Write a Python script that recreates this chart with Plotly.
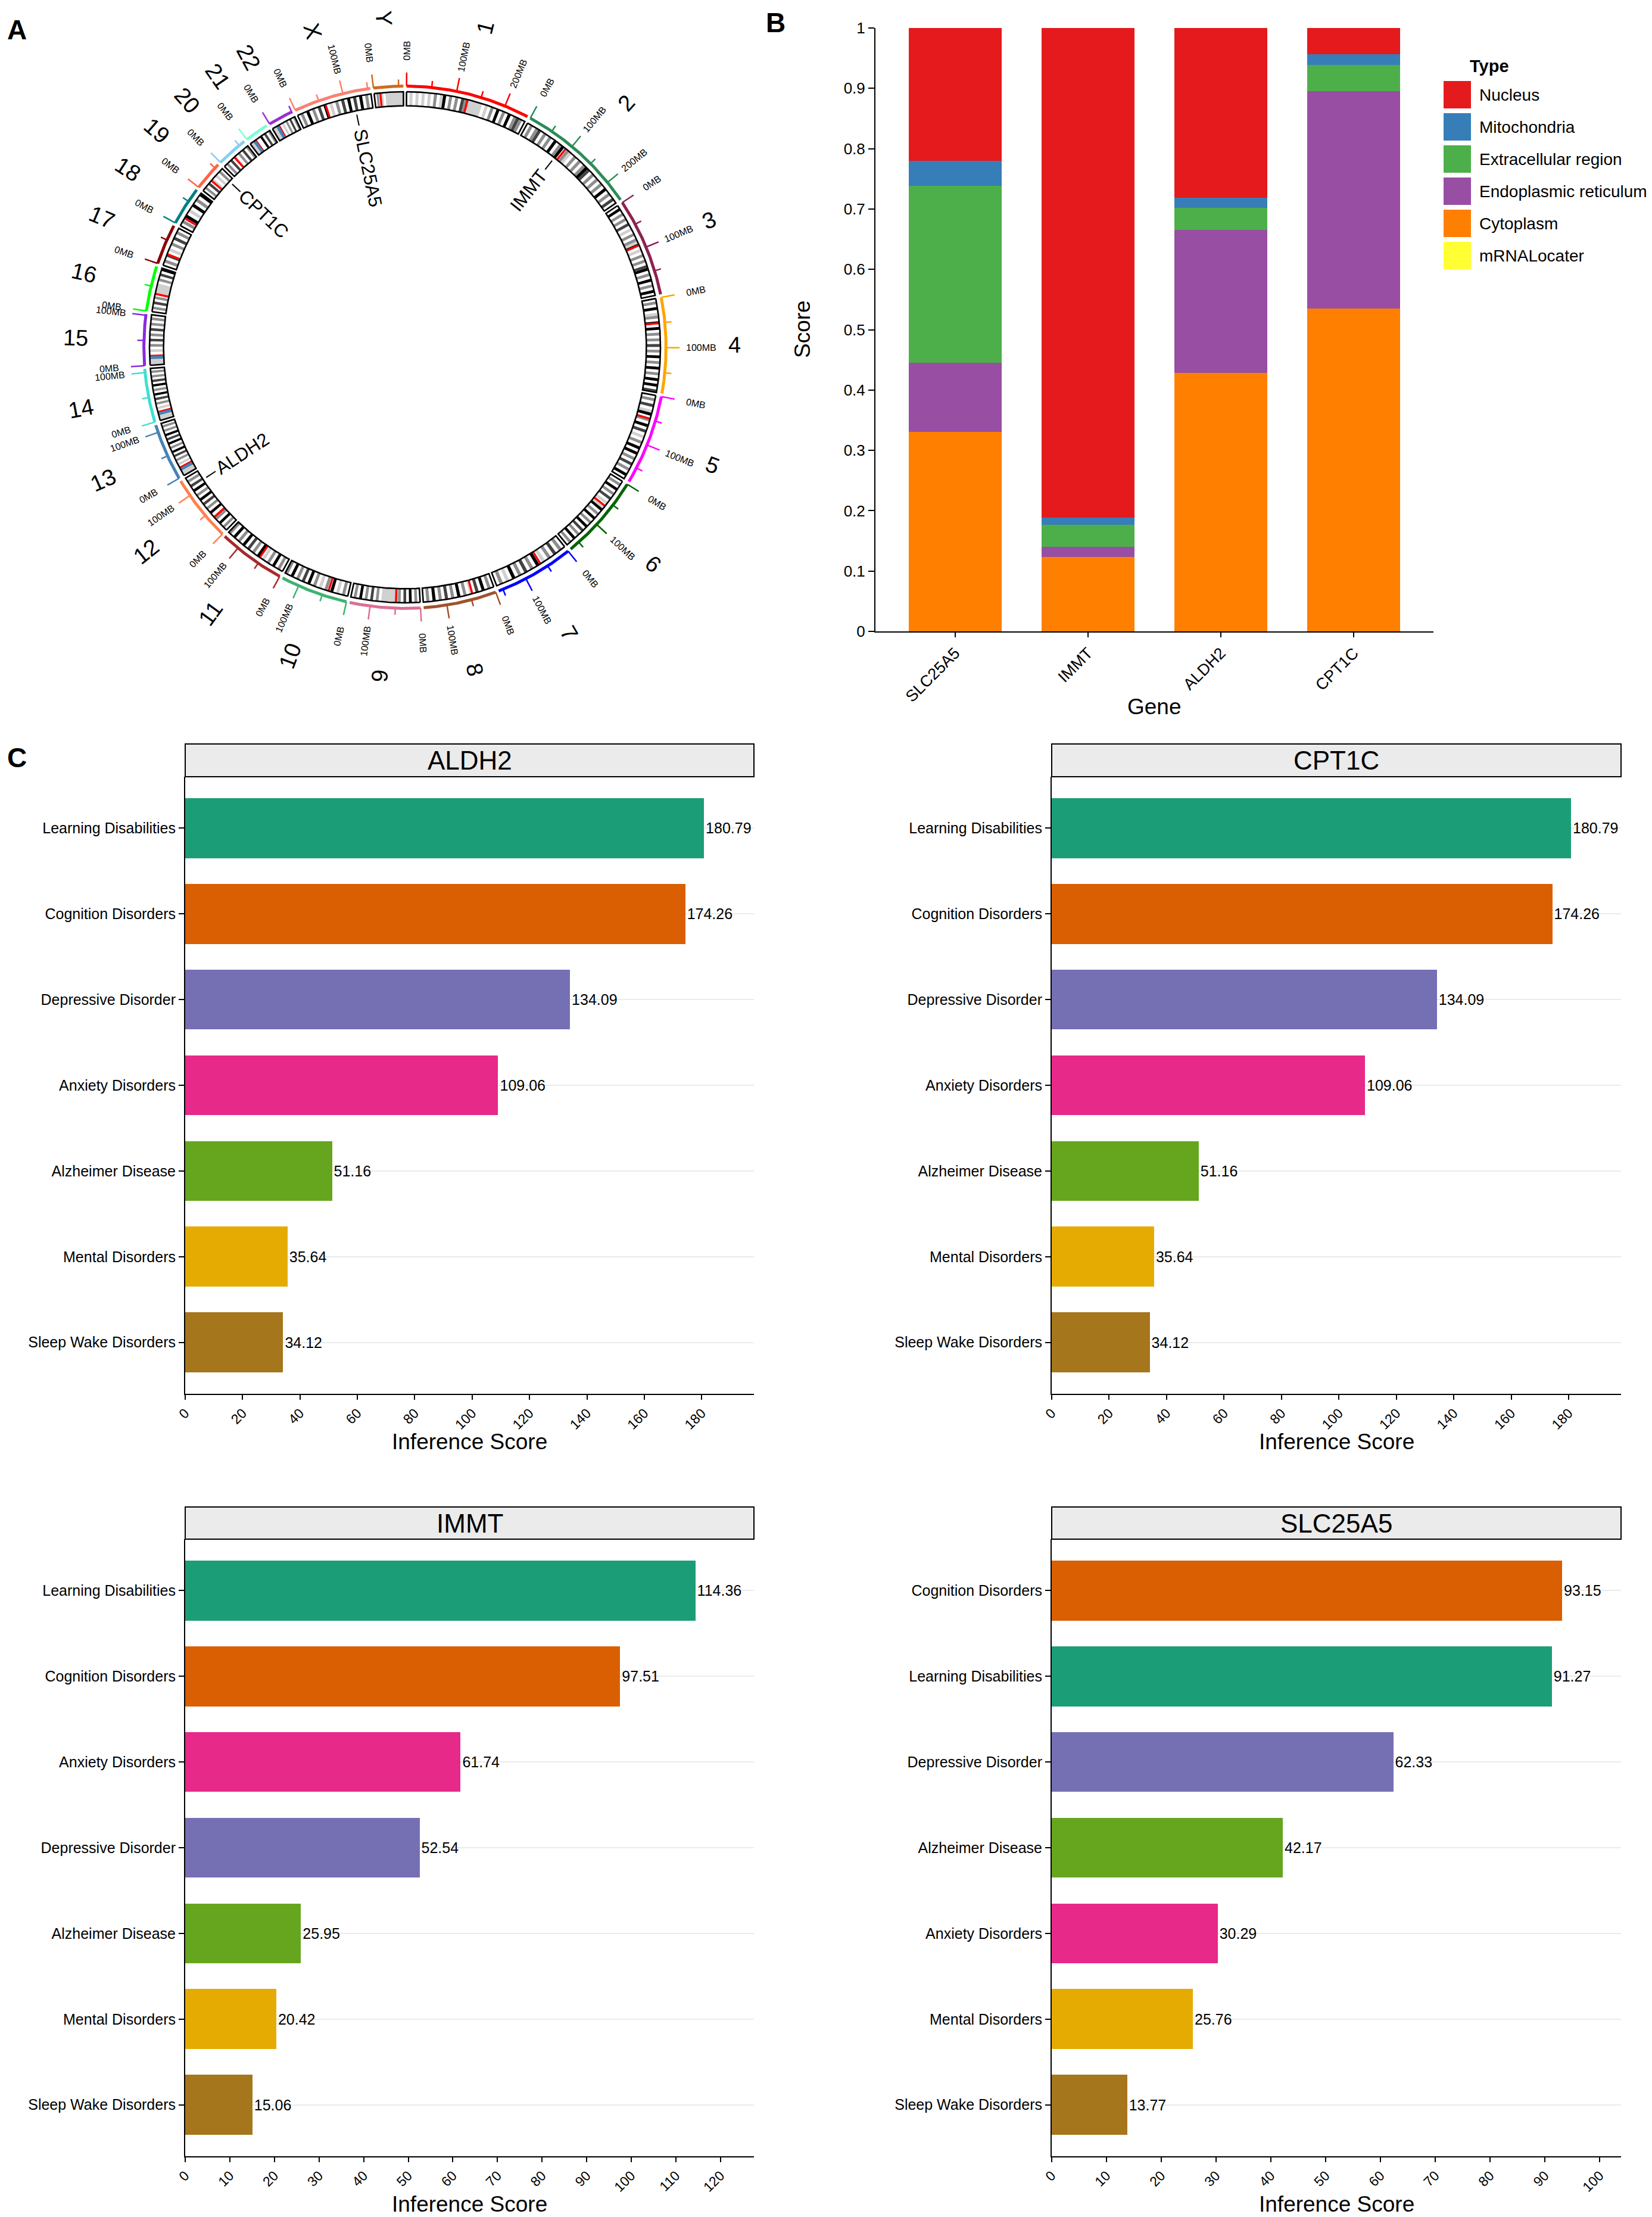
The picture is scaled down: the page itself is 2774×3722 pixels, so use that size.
import numpy as np
import plotly.graph_objects as go

W, H = 2774, 3722
OFF = 8  # page body margin
FONT = "Liberation Sans, Arial, sans-serif"

# ---------------- panel A data (hg19, Mb) ----------------
CHROMS = ["1", "2", "3", "4", "5", "6", "7", "8", "9", "10", "11", "12",
          "13", "14", "15", "16", "17", "18", "19", "20", "21", "22", "X", "Y"]
CHROM_LEN = [249.25, 243.2, 198.0, 191.15, 180.9, 171.1, 159.1, 146.4, 141.2, 135.5,
             135.0, 133.9, 115.2, 107.3, 102.5, 90.35, 81.2, 78.1, 59.1, 63.0,
             48.1, 51.3, 155.3, 59.4]
CENTROMERE = [125.0, 93.3, 91.0, 50.4, 48.4, 61.0, 59.9, 45.6, 49.0, 40.2,
              53.7, 35.8, 17.9, 17.6, 19.0, 36.6, 24.0, 17.2, 26.5, 27.5,
              13.2, 14.7, 60.6, 12.5]
CHROM_COLORS = ["#FF0000", "#2E8B57", "#8B2252", "#FFA500", "#FF00FF", "#006400",
                "#0000FF", "#A0522D", "#DB7093", "#3CB371", "#A52A2A", "#FF7F50",
                "#4682B4", "#40E0D0", "#8A2BE2", "#00FF00", "#8B0000", "#008080",
                "#FF6347", "#87CEEB", "#7FFFD4", "#9932CC", "#FA8072", "#D2691E"]
# rough stain pattern, equal-width bins (0 white .. 4 black)
BANDS = ["0101010102014020203211111010204020402320",
         "02023020204024021020202430202020402030",
         "0402020301020214010202034020402040",
         "020401204040202030204020402040403",
         "020301402040301020404020302040",
         "020402030101402040204030204020",
         "02030201040203020401020",
         "02040301020402030204020",
         "0204030211111102030204020",
         "0201040201020403020402",
         "0204020104020304020402",
         "020402104020304020403020",
         "1110010203040204030402020",
         "11100102030402040302020",
         "1110010203020302020",
         "02030201111020304",
         "0203010203020",
         "020401040204",
         "02030101020",
         "020301020302",
         "1110040302",
         "111001020302",
         "0204020304010203040304020",
         "0201011111111"]
STALK_CHROMS = ["13", "14", "15", "21", "22"]
STALK_POS = [14.0, 14.0, 15.5, 10.5, 11.5]

GENE_NAMES = ["SLC25A5", "IMMT", "CPT1C", "ALDH2"]
GENE_CHROM = ["X", "2", "19", "12"]
GENE_POS = [118.6, 86.4, 50.2, 112.2]

# ---------------- panel B data ----------------
B_GENES = ["SLC25A5", "IMMT", "ALDH2", "CPT1C"]
cytoplasm = [0.331, 0.123, 0.428, 0.535]
endoplasmic = [0.114, 0.017, 0.237, 0.360]
extracellular = [0.293, 0.037, 0.037, 0.044]
mitochondria = [0.042, 0.012, 0.017, 0.018]
nucleus = [0.220, 0.811, 0.281, 0.043]
mrnalocater = [0.0, 0.0, 0.0, 0.0]
TYPE_NAMES = ["Nucleus", "Mitochondria", "Extracellular region",
              "Endoplasmic reticulum", "Cytoplasm", "mRNALocater"]
TYPE_COLORS = ["#E41A1C", "#377EB8", "#4DAF4A", "#984EA3", "#FF7F00", "#FFFF33"]

# ---------------- panel C data ----------------
DISEASE_COLORS = {"Learning Disabilities": "#1B9E77", "Cognition Disorders": "#D95F02",
                  "Depressive Disorder": "#7570B3", "Anxiety Disorders": "#E7298A",
                  "Alzheimer Disease": "#66A61E", "Mental Disorders": "#E6AB02",
                  "Sleep Wake Disorders": "#A6761D"}
C_TITLES = ["ALDH2", "CPT1C", "IMMT", "SLC25A5"]
aldh2_terms = ["Learning Disabilities", "Cognition Disorders", "Depressive Disorder",
               "Anxiety Disorders", "Alzheimer Disease", "Mental Disorders", "Sleep Wake Disorders"]
aldh2_scores = [180.79, 174.26, 134.09, 109.06, 51.16, 35.64, 34.12]
cpt1c_terms = ["Learning Disabilities", "Cognition Disorders", "Depressive Disorder",
               "Anxiety Disorders", "Alzheimer Disease", "Mental Disorders", "Sleep Wake Disorders"]
cpt1c_scores = [180.79, 174.26, 134.09, 109.06, 51.16, 35.64, 34.12]
immt_terms = ["Learning Disabilities", "Cognition Disorders", "Anxiety Disorders",
              "Depressive Disorder", "Alzheimer Disease", "Mental Disorders", "Sleep Wake Disorders"]
immt_scores = [114.36, 97.51, 61.74, 52.54, 25.95, 20.42, 15.06]
slc_terms = ["Cognition Disorders", "Learning Disabilities", "Depressive Disorder",
             "Alzheimer Disease", "Anxiety Disorders", "Mental Disorders", "Sleep Wake Disorders"]
slc_scores = [93.15, 91.27, 62.33, 42.17, 30.29, 25.76, 13.77]
C_XMAX = [198.2, 198.2, 127.5, 103.9]
C_DTICK = [20, 20, 10, 10]


# screen pixel -> paper fraction (the page adds an 8px body margin)
def px(x):
    return (x - OFF) / W


def py(y):
    return 1 - (y - OFF) / H


def label(x, y, text, size, **kw):
    d = dict(x=px(x), y=py(y), xref="paper", yref="paper", text=text, showarrow=False,
             xanchor="center", yanchor="middle", font=dict(size=size, color="black"))
    d.update(kw)
    return d


fig = go.Figure()
annotations = []
shapes = []

# ================= A: circos ring =================
CX, CY, RPX = 680, 583, 429
R_IN, R_OUT, R_ARC = 0.945, 1.0, 1.022
GAP = 0.7
deg_per_mb = (360 - GAP * len(CHROMS)) / sum(CHROM_LEN)
starts = []
a = GAP / 2
for L in CHROM_LEN:
    starts.append(a)
    a += L * deg_per_mb + GAP


def ang(ci, mb):
    return starts[ci] + mb * deg_per_mb


def arc(r, a0, a1):
    n = max(2, int(abs(a1 - a0) / 0.25) + 2)
    t = np.radians(np.linspace(a0, a1, n))
    return list(r * np.sin(t)), list(r * np.cos(t))


def ring_poly(a0, a1):
    xo, yo = arc(R_OUT, a0, a1)
    xi, yi = arc(R_IN, a1, a0)
    return xo + xi + [xo[0]], yo + yi + [yo[0]]


def radial(a_deg, r0, r1):
    t = np.radians(a_deg)
    return [r0 * np.sin(t), r1 * np.sin(t)], [r0 * np.cos(t), r1 * np.cos(t)]


def radial_text(th, r, text, size):
    ta = th - 90 if th < 180 else th - 270
    t = np.radians(th)
    return dict(x=r * np.sin(t), y=r * np.cos(t), xref="x", yref="y", text=text,
                showarrow=False, textangle=ta, xanchor="center", yanchor="middle",
                font=dict(size=size, color="black"))


STAIN = {"1": "#D0D0D0", "2": "#8E8E8E", "3": "#444444", "4": "#000000"}
stain_xy = {k: ([], []) for k in STAIN}
for ci, L in enumerate(CHROM_LEN):
    s = BANDS[ci]
    n = len(s)
    for i, ch in enumerate(s):
        if ch == "0":
            continue
        bx, by = ring_poly(ang(ci, L * i / n), ang(ci, L * (i + 1) / n))
        stain_xy[ch][0].extend(bx + [None])
        stain_xy[ch][1].extend(by + [None])
for k, col in STAIN.items():
    fig.add_trace(go.Scatter(x=stain_xy[k][0], y=stain_xy[k][1], fill="toself",
                             fillcolor=col, mode="none", hoverinfo="skip",
                             xaxis="x", yaxis="y"))

# centromeres (red) and stalks (blue)
cx_, cy_ = [], []
for ci, c in enumerate(CENTROMERE):
    lx, ly = radial(ang(ci, c), R_IN, R_OUT)
    cx_ += lx + [None]
    cy_ += ly + [None]
fig.add_trace(go.Scatter(x=cx_, y=cy_, mode="lines", line=dict(color="#FF0000", width=3.5),
                         hoverinfo="skip", xaxis="x", yaxis="y"))
sx_, sy_ = [], []
for ch, p in zip(STALK_CHROMS, STALK_POS):
    lx, ly = radial(ang(CHROMS.index(ch), p), R_IN, R_OUT)
    sx_ += lx + [None]
    sy_ += ly + [None]
fig.add_trace(go.Scatter(x=sx_, y=sy_, mode="lines", line=dict(color="#4682B4", width=5),
                         hoverinfo="skip", xaxis="x", yaxis="y"))

# chromosome outlines
ox, oy = [], []
for ci, L in enumerate(CHROM_LEN):
    bx, by = ring_poly(ang(ci, 0), ang(ci, L))
    ox += bx + [None]
    oy += by + [None]
fig.add_trace(go.Scatter(x=ox, y=oy, mode="lines", line=dict(color="black", width=2.6),
                         hoverinfo="skip", xaxis="x", yaxis="y"))

# coloured scale arcs with ticks and labels
for ci, L in enumerate(CHROM_LEN):
    col = CHROM_COLORS[ci]
    ax_, ay_ = arc(R_ARC, ang(ci, 0), ang(ci, L))
    fig.add_trace(go.Scatter(x=ax_, y=ay_, mode="lines", line=dict(color=col, width=5),
                             hoverinfo="skip", xaxis="x", yaxis="y"))
    tx, ty = [], []
    for m in np.arange(0, L + 0.01, 50):
        major = int(m) % 100 == 0
        lx, ly = radial(ang(ci, m), R_ARC, 1.075 if major else 1.048)
        tx += lx + [None]
        ty += ly + [None]
        if major:
            annotations.append(radial_text(ang(ci, m), 1.16, f"{int(m)}MB", 16))
    fig.add_trace(go.Scatter(x=tx, y=ty, mode="lines", line=dict(color=col, width=2.5),
                             hoverinfo="skip", xaxis="x", yaxis="y"))
    annotations.append(radial_text(ang(ci, L / 2), 1.29, CHROMS[ci], 38))

# gene labels
gx, gy = [], []
for name, ch, pos in zip(GENE_NAMES, GENE_CHROM, GENE_POS):
    th = ang(CHROMS.index(ch), pos)
    lx, ly = radial(th, 0.93, 0.886)
    gx += lx + [None]
    gy += ly + [None]
    rc = 0.872 - (len(name) * 0.62 * 31 / 2) / RPX
    annotations.append(radial_text(th, rc, name, 31))
fig.add_trace(go.Scatter(x=gx, y=gy, mode="lines", line=dict(color="black", width=2),
                         hoverinfo="skip", xaxis="x", yaxis="y"))

# ================= B: stacked localisation bars =================
stack = [("Cytoplasm", cytoplasm), ("Endoplasmic reticulum", endoplasmic),
         ("Extracellular region", extracellular), ("Mitochondria", mitochondria),
         ("Nucleus", nucleus), ("mRNALocater", mrnalocater)]
for name, vals in stack:
    fig.add_trace(go.Bar(x=B_GENES, y=vals, name=name, width=0.7,
                         marker=dict(color=TYPE_COLORS[TYPE_NAMES.index(name)], line=dict(width=0)),
                         xaxis="x2", yaxis="y2"))

# manual legend
annotations.append(label(2466, 111, "<b>Type</b>", 29, xanchor="left"))
for i, (name, col) in enumerate(zip(TYPE_NAMES, TYPE_COLORS)):
    yc = 159 + i * 54
    shapes.append(dict(type="rect", xref="paper", yref="paper", x0=px(2424), x1=px(2470),
                       y0=py(yc + 23), y1=py(yc - 23), fillcolor=col, line=dict(width=0)))
    annotations.append(label(2482, yc, name, 28, xanchor="left"))

annotations.append(label(1347, 553, "Score", 37, textangle=-90))
annotations.append(label(1938, 1186, "Gene", 37))

# ================= C: inference score bars =================
c_terms = [aldh2_terms, cpt1c_terms, immt_terms, slc_terms]
c_scores = [aldh2_scores, cpt1c_scores, immt_scores, slc_scores]
cols_px = [(311, 1266), (1766, 2722)]
rows_px = [(1249, 1304, 2340), (2530, 2584, 3620)]
for k in range(4):
    xl, xr = cols_px[k % 2]
    st, top, bot = rows_px[k // 2]
    xa, ya = f"x{k + 3}", f"y{k + 3}"
    terms, scores = c_terms[k], c_scores[k]
    fig.add_trace(go.Bar(y=terms, x=scores, orientation="h", width=0.7,
                         marker=dict(color=[DISEASE_COLORS[t] for t in terms], line=dict(width=0)),
                         text=[f"{v:.2f}" for v in scores], textposition="outside",
                         textfont=dict(size=25, color="black"), constraintext="none",
                         cliponaxis=False, xaxis=xa, yaxis=ya))
    fig.layout[f"xaxis{k + 3}"] = dict(domain=[px(xl), px(xr)], anchor=ya, range=[0, C_XMAX[k]],
                                       dtick=C_DTICK[k], tick0=0, tickangle=-45, showgrid=False,
                                       zeroline=False, showline=True, linecolor="black", linewidth=2,
                                       ticks="outside", ticklen=8, tickwidth=2, tickcolor="black",
                                       tickfont=dict(size=23, color="black"), automargin=False)
    fig.layout[f"yaxis{k + 3}"] = dict(domain=[py(bot), py(top)], anchor=xa, type="category",
                                       categoryorder="array", categoryarray=terms, range=[6.6, -0.6],
                                       showgrid=True, gridcolor="#EBEBEB", gridwidth=2,
                                       zeroline=False, showline=True, linecolor="black", linewidth=2,
                                       ticks="outside", ticklen=9, tickwidth=2, tickcolor="black",
                                       tickfont=dict(size=25, color="black"), automargin=False)
    shapes.append(dict(type="rect", xref="paper", yref="paper", x0=px(xl), x1=px(xr),
                       y0=py(top), y1=py(st), fillcolor="#EBEBEB", line=dict(color="black", width=2)))
    annotations.append(label((xl + xr) / 2, (st + top) / 2, C_TITLES[k], 44))
    annotations.append(label((xl + xr) / 2, bot + 80, "Inference Score", 37))

# panel letters
for letter, lx, ly in [("A", 10, 22), ("B", 1284, 10), ("C", 10, 1244)]:
    annotations.append(label(lx, ly, f"<b>{letter}</b>", 46, xanchor="left", yanchor="top"))

fig.update_layout(
    width=W, height=H, margin=dict(l=0, r=0, t=0, b=0, pad=0, autoexpand=False),
    paper_bgcolor="white", plot_bgcolor="white", showlegend=False, barmode="stack",
    font=dict(family=FONT, color="black"),
    xaxis=dict(domain=[0, px(2 * CX)], range=[(OFF - CX) / RPX, CX / RPX], visible=False, anchor="y"),
    yaxis=dict(domain=[py(2 * CY), 1], range=[-CY / RPX, (CY - OFF) / RPX], visible=False, anchor="x"),
    xaxis2=dict(domain=[px(1470), px(2407)], anchor="y2", type="category", range=[-0.6, 3.6],
                tickangle=-45, showline=True, linecolor="black", linewidth=2, ticks="outside",
                ticklen=8, tickwidth=2, tickcolor="black", showgrid=False,
                tickfont=dict(size=27, color="black"), automargin=False),
    yaxis2=dict(domain=[py(1060), py(47)], anchor="x2", range=[0, 1], dtick=0.1, tick0=0,
                showline=True, linecolor="black", linewidth=2, ticks="outside", ticklen=10,
                tickwidth=2, tickcolor="black", showgrid=False, zeroline=False,
                tickfont=dict(size=26, color="black"), automargin=False),
    annotations=annotations, shapes=shapes,
)

fig.write_html("out.html")
